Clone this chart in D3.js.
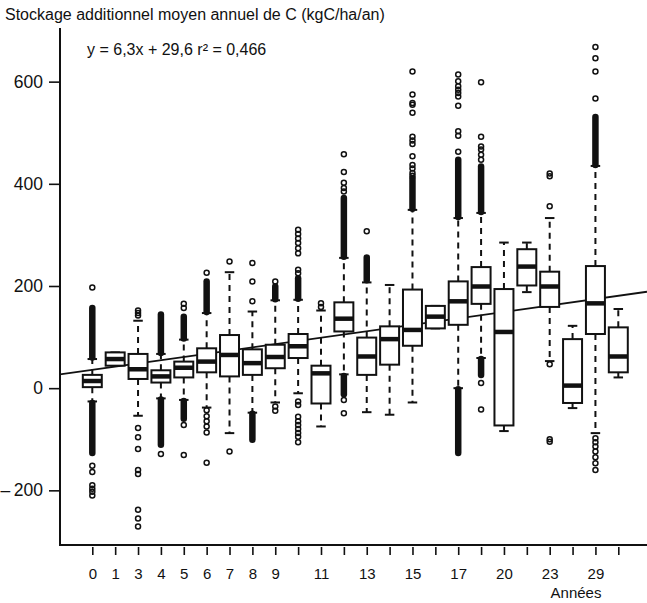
<!DOCTYPE html>
<html><head><meta charset="utf-8">
<script src="https://cdn.jsdelivr.net/npm/d3@7"></script>
<style>
html,body{margin:0;padding:0;background:#fff;}
svg text{font-family:"Liberation Sans",Arial,Helvetica,sans-serif;fill:#111;}
</style></head>
<body><svg id="chart" width="647" height="603"></svg>
<script>
// ---- data ----
const categories = ["0","1","3","4","5","6","7","8","9","10","11","12","13","14","15","16","17","18","20","21","23","24","29","30"];
const tickLabels = ["0","1","3","4","5","6","7","8","9","","11","","13","","15","","17","","20","","23","","29",""];
const whiskerLow  = [-26, 44, -54, -20, -23, -38, -88, -48, -28, -10, -75, 27, -47, -52, -28, 117, 0, 59, -84, 188, 53, -39, -88, 21];
const q1          = [2, 44, 18, 11, 21, 31, 23, 26, 39, 59, -30, 111, 26, 46, 83, 117, 124, 165, -73, 201, 159, -29, 106, 31];
const median      = [14, 57, 37, 23, 40, 52, 65, 49, 61, 82, 29, 136, 62, 96, 114, 140, 170, 199, 110, 238, 199, 5, 166, 62];
const q3          = [26, 70, 67, 35, 52, 78, 104, 76, 85, 106, 44, 168, 99, 121, 193, 161, 209, 237, 194, 272, 228, 96, 239, 119];
const whiskerHigh = [57, 70, 132, 67, 95, 147, 227, 150, 172, 173, 152, 255, 207, 202, 349, 161, 333, 343, 285, 285, 333, 122, 435, 155];
const outliers = [
  [197, -152, -164, -190, -197, -203, -210],
  [],
  [142, 147, 152, -78, -96, -119, -160, -168, -238, -255, -271],
  [-129],
  [157, 165, -72, -131],
  [226, -43, -55, -65, -75, -87, -146],
  [248, -124],
  [170, 209, 245],
  [209, -36, -44],
  [225, 232, 264, 274, 284, 293, 302, 310, -26, -33, -56, -65, -72, -80, -88, -95, -106],
  [159, 166],
  [385, 392, 402, 423, 458, -23, -49],
  [307],
  [],
  [416, 421, 430, 437, 454, 478, 485, 492, 539, 555, 558, 575, 620],
  [],
  [463, 494, 503, 553, 571, 578, 584, 591, 601, 614],
  [447, 457, 467, 473, 492, 599, 10, -42],
  [],
  [],
  [47, -100, -105, 356, 415, 420],
  [],
  [567, 620, 646, 668, -98, -106, -114, -124, -135, -147, -160],
  []
];
// runs of outliers so dense that they merge into a solid bar [from, to]
const denseRuns = [
  [[60, 157], [-29, -127]],
  [],
  [],
  [[69, 144], [-22, -111]],
  [[97, 140], [-25, -60]],
  [[149, 209]],
  [],
  [[-50, -101]],
  [[174, 199]],
  [[175, 215]],
  [],
  [[257, 372], [24, -12]],
  [[211, 256]],
  [],
  [[351, 411]],
  [],
  [[335, 447], [-2, -127]],
  [[345, 434], [57, 26]],
  [],
  [],
  [],
  [],
  [[437, 531]],
  []
];
const yTicks = [-200, 0, 200, 400, 600];
const yTickLabels = ["\u2013\u2009200", "0", "200", "400", "600"];
const regIntercept = 29.6, regSlope = 6.3;
const titleText = "Stockage additionnel moyen annuel de C (kgC/ha/an)";
const equationText = "y = 6,3x + 29,6 r\u00B2 = 0,466";
const xTitle = "Ann\u00E9es";

// ---- layout ----
const svg = d3.select("#chart");
const plotLeft = 60, plotRight = 647, plotTop = 28, plotBottom = 545;
const x = d3.scaleLinear().domain([1, 24]).range([92.3, 618.3]);
const y = d3.scaleLinear().domain([-307, 705]).range([plotBottom, plotTop]);
const step = x(2) - x(1);
const boxW = step * 0.83;
const stapleW = boxW * 0.5;

// regression line (drawn in box-position coordinates, like abline)
const pL = x.invert(plotLeft), pR = x.invert(plotRight);
svg.append("line")
  .attr("x1", x(pL)).attr("y1", y(regIntercept + regSlope * pL))
  .attr("x2", x(pR)).attr("y2", y(regIntercept + regSlope * pR))
  .attr("stroke", "#111").attr("stroke-width", 1.8);

// boxes
const g = svg.append("g");
categories.forEach((c, i) => {
  const cx = x(i + 1);
  const bg = g.append("g");
  // whiskers
  bg.append("line").attr("x1", cx).attr("x2", cx).attr("y1", y(q3[i])).attr("y2", y(whiskerHigh[i]))
    .attr("stroke", "#111").attr("stroke-width", 2).attr("stroke-dasharray", "6,5");
  bg.append("line").attr("x1", cx).attr("x2", cx).attr("y1", y(q1[i])).attr("y2", y(whiskerLow[i]))
    .attr("stroke", "#111").attr("stroke-width", 2).attr("stroke-dasharray", "6,5");
  // staples
  [whiskerHigh[i], whiskerLow[i]].forEach(v => {
    bg.append("line").attr("x1", cx - stapleW / 2).attr("x2", cx + stapleW / 2)
      .attr("y1", y(v)).attr("y2", y(v)).attr("stroke", "#111").attr("stroke-width", 2);
  });
  // box
  bg.append("rect").attr("x", cx - boxW / 2).attr("width", boxW)
    .attr("y", y(q3[i])).attr("height", y(q1[i]) - y(q3[i]))
    .attr("fill", "#fff").attr("stroke", "#111").attr("stroke-width", 2);
  // median
  bg.append("line").attr("x1", cx - boxW / 2).attr("x2", cx + boxW / 2)
    .attr("y1", y(median[i])).attr("y2", y(median[i]))
    .attr("stroke", "#111").attr("stroke-width", 4.5);
  // dense outlier runs
  denseRuns[i].forEach(r => {
    bg.append("line").attr("x1", cx).attr("x2", cx).attr("y1", y(r[0])).attr("y2", y(r[1]))
      .attr("stroke", "#111").attr("stroke-width", 6.5).attr("stroke-linecap", "round");
  });
  // outliers
  bg.selectAll("circle.o").data(outliers[i]).enter().append("circle")
    .attr("class", "o").attr("cx", cx).attr("cy", d => y(d)).attr("r", 2.5)
    .attr("fill", "none").attr("stroke", "#111").attr("stroke-width", 1.5);
});

// L-shaped frame
svg.append("path")
  .attr("d", `M${plotLeft},${plotTop}V${plotBottom}H${plotRight}`)
  .attr("fill", "none").attr("stroke", "#111").attr("stroke-width", 2);

// y axis
const yAxis = d3.axisLeft(y).tickValues(yTicks).tickSize(11).tickPadding(6)
  .tickFormat((d, i) => yTickLabels[i]);
const ya = svg.append("g").attr("transform", `translate(${plotLeft},0)`).call(yAxis);
ya.select(".domain").remove();
ya.selectAll(".tick line").attr("stroke", "#111").attr("stroke-width", 1.6);
ya.selectAll(".tick text").attr("font-size", 17.5).attr("fill", "#111")
  .attr("font-family", "'Liberation Sans', Arial, sans-serif");

// x axis (ticks only, offset below frame)
const xAxis = d3.axisBottom(x).tickValues(d3.range(1, categories.length + 1)).tickSize(8).tickPadding(13)
  .tickFormat(d => tickLabels[d - 1]);
const xa = svg.append("g").attr("transform", `translate(0,${plotBottom + 2})`).call(xAxis);
xa.select(".domain").remove();
xa.selectAll(".tick line").attr("stroke", "#111").attr("stroke-width", 1.6);
xa.selectAll(".tick text").attr("font-size", 15).attr("fill", "#111")
  .attr("font-family", "'Liberation Sans', Arial, sans-serif");

// texts
svg.append("text").attr("x", 5).attr("y", 20).attr("font-size", 16).text(titleText);
svg.append("text").attr("x", 87).attr("y", 55).attr("font-size", 16).text(equationText);
svg.append("text").attr("x", 576).attr("y", 598).attr("text-anchor", "middle").attr("font-size", 15).text(xTitle);
</script></body></html>
